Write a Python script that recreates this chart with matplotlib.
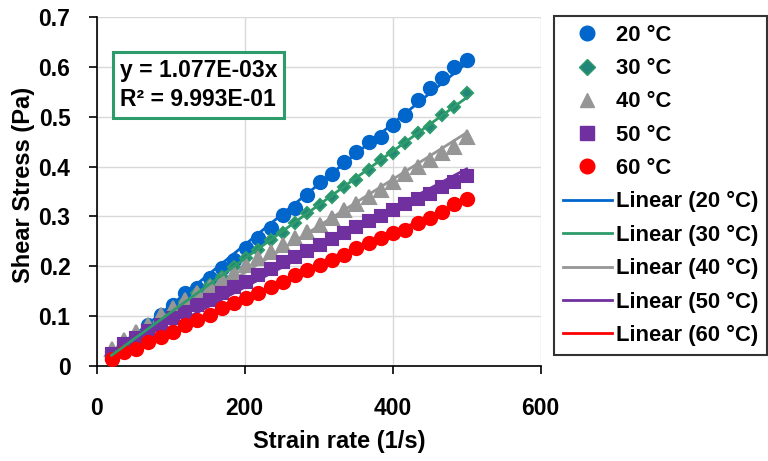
import numpy as np
import matplotlib.pyplot as plt
from matplotlib.lines import Line2D

plt.rcParams['font.family'] = ['Liberation Sans', 'DejaVu Sans']
plt.rcParams['font.weight'] = 'bold'

# strain rate (1/s)
rate = [20, 36.6, 53.1, 69.7, 86.2, 102.8, 119.3, 135.9, 152.4, 169.0,
        185.5, 202.1, 218.6, 235.2, 251.7, 268.3, 284.8, 301.4, 317.9, 334.5,
        351.0, 367.6, 384.1, 400.7, 417.2, 433.8, 450.3, 466.9, 483.4, 500]

# shear stress (Pa) at each temperature
s20 = [0.019, 0.039, 0.059, 0.082, 0.102, 0.122, 0.146, 0.156, 0.176, 0.196,
       0.213, 0.236, 0.256, 0.276, 0.303, 0.316, 0.343, 0.370, 0.386, 0.410,
       0.430, 0.450, 0.460, 0.483, 0.503, 0.533, 0.557, 0.577, 0.600, 0.614]
s30 = [0.029, 0.046, 0.059, 0.076, 0.092, 0.109, 0.129, 0.146, 0.162, 0.179,
       0.199, 0.216, 0.233, 0.253, 0.266, 0.286, 0.306, 0.323, 0.340, 0.360,
       0.373, 0.393, 0.413, 0.427, 0.447, 0.467, 0.480, 0.503, 0.520, 0.548]
s40 = [0.035, 0.052, 0.069, 0.082, 0.102, 0.116, 0.132, 0.146, 0.159, 0.172,
       0.186, 0.203, 0.216, 0.229, 0.243, 0.256, 0.269, 0.283, 0.296, 0.313,
       0.326, 0.340, 0.353, 0.370, 0.386, 0.400, 0.413, 0.427, 0.440, 0.460]
s50 = [0.025, 0.044, 0.057, 0.070, 0.083, 0.096, 0.109, 0.122, 0.133, 0.146,
       0.158, 0.169, 0.182, 0.195, 0.208, 0.219, 0.230, 0.243, 0.254, 0.267,
       0.278, 0.291, 0.301, 0.312, 0.325, 0.336, 0.346, 0.360, 0.370, 0.382]
s60 = [0.015, 0.029, 0.035, 0.049, 0.059, 0.069, 0.082, 0.092, 0.102, 0.116,
       0.126, 0.136, 0.146, 0.159, 0.169, 0.182, 0.193, 0.203, 0.213, 0.223,
       0.236, 0.246, 0.256, 0.266, 0.273, 0.286, 0.296, 0.309, 0.325, 0.336]

temps = ['20 °C', '30 °C', '40 °C', '50 °C', '60 °C']
series = [s20, s30, s40, s50, s60]
colors = ['#0066CC', '#2E9B6A', '#969696', '#7030A0', '#FF0000']
faces = ['#0066CC', '#22867A', '#969696', '#7030A0', '#FF0000']
markers = ['o', 'D', '^', 's', 'o']
msizes = [9.5, 6.5, 9.5, 9, 9.5]
leg_sizes = [10.5, 8, 10.5, 10, 10.5]

# trendline through origin for the 30 °C data
slope30 = 1.077e-3

fig = plt.figure(figsize=(7.68, 4.61), dpi=100)
ax = fig.add_axes([0.126, 0.206, 0.578, 0.757])

x = np.array(rate)
for ys, c, fc, m, ms in zip(series, colors, faces, markers, msizes):
    ax.plot(x, ys, linestyle='none', marker=m, markersize=ms,
            markerfacecolor=fc, markeredgecolor=c, markeredgewidth=1.5, zorder=3)

for i, (ys, c) in enumerate(zip(series, colors)):
    y = np.array(ys)
    k = slope30 if i == 1 else np.sum(x * y) / np.sum(x * x)
    xs = np.array([x[0], x[-1]])
    ax.plot(xs, k * xs, color=c, linewidth=2, zorder=4 if i == 1 else 2)

ax.set_xlim(0, 600)
ax.set_ylim(0, 0.7)
ax.set_xticks([0, 200, 400, 600])
ax.set_yticks([0, 0.1, 0.2, 0.3, 0.4, 0.5, 0.6, 0.7])
ax.set_yticklabels(['0', '0.1', '0.2', '0.3', '0.4', '0.5', '0.6', '0.7'])
ax.grid(True, color='#D9D9D9', linewidth=1)
ax.set_axisbelow(True)
for s in ['top', 'right']:
    ax.spines[s].set_visible(False)
for s in ['left', 'bottom']:
    ax.spines[s].set_color('black')
    ax.spines[s].set_linewidth(1.2)
ax.tick_params(direction='out', length=6, width=1.2, labelsize=16.5, colors='black')
ax.tick_params(axis='y', pad=13)
ax.tick_params(axis='x', pad=16)
for lab in ax.get_xticklabels() + ax.get_yticklabels():
    lab.set_fontweight('bold')

ax.set_xlabel('Strain rate (1/s)', fontsize=17, fontweight='bold')
ax.set_ylabel('Shear Stress (Pa)', fontsize=17, fontweight='bold')
ax.xaxis.set_label_coords(0.547, -0.183)
ax.yaxis.set_label_coords(-0.14, 0.519)

ax.text(0.052, 0.805, 'y = 1.077E-03x\nR² = 9.993E-01', transform=ax.transAxes,
        fontsize=16.5, fontweight='bold', linespacing=1.35, va='center',
        bbox=dict(boxstyle='square,pad=0.3', facecolor='white',
                  edgecolor='#2E9B6A', linewidth=2.2))

handles = []
for t, c, fc, m, ms in zip(temps, colors, faces, markers, leg_sizes):
    handles.append(Line2D([], [], linestyle='none', marker=m, markersize=ms,
                          markerfacecolor=fc, markeredgecolor=c, label=t))
for t, c in zip(temps, colors):
    handles.append(Line2D([], [], color=c, linewidth=2, label='Linear (' + t + ')'))

leg = fig.legend(handles=handles, loc='upper left', bbox_to_anchor=(0.722, 0.965),
                 frameon=True, fancybox=False, handlelength=2.2,
                 handletextpad=0.2, labelspacing=0.56, borderpad=0.4,
                 borderaxespad=0, prop={'weight': 'bold', 'size': 15.8})
leg.get_frame().set_edgecolor('black')
leg.get_frame().set_linewidth(1.5)

fig.savefig('out.png', dpi=100)
